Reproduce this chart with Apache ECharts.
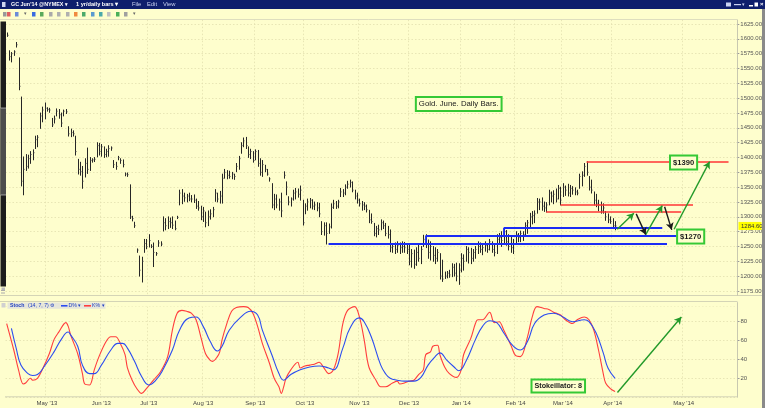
<!DOCTYPE html>
<html><head><meta charset="utf-8">
<script src="https://cdn.jsdelivr.net/npm/echarts@6/dist/echarts.min.js"></script>
<style>html,body{margin:0;padding:0;background:#fefecd}#c{width:765px;height:408px}</style>
</head><body><div id="c"></div>
<script>
// ---------- data ----------
const FIRST_DAY = '2013-04-08';   // first daily bar
const LAST_BAR_DAY = '2014-04-02'; // last daily bar
const LAST_AXIS_DAY = '2014-05-23';// right edge of the time axis
const MONTHS = ['Jan','Feb','Mar','Apr','May','Jun','Jul','Aug','Sep','Oct','Nov','Dec'];
const priceTicks = {min:1150, max:1650, step:25};
const stochTicks = {min:0, max:100, step:20};
const lastPrice = 1284.60;

const highs = [1610,1580,1577,1580,1594,1568,1502,1401,1405,1404,
1410,1413,1436,1437,1475,1485,1492,1484,1483,1466,
1470,1482,1481,1475,1480,1481,1452,1448,1445,1436,
1397,1392,1385,1398,1416,1400,1398,1400,1425,1424,
1422,1418,1414,1420,1418,1395,1392,1402,1398,1396,
1374,1374,1354,1301,1291,1246,1234,1232,1262,1262,
1270,1253,1256,1240,1260,1258,1300,1297,1300,1298,
1300,1293,1301,1345,1346,1340,1338,1340,1336,1337,
1330,1326,1318,1316,1308,1310,1312,1316,1346,1340,
1343,1372,1380,1378,1377,1375,1372,1390,1402,1425,
1433,1434,1418,1414,1410,1413,1412,1398,1395,1387,
1380,1366,1356,1338,1337,1330,1340,1376,1359,1334,
1332,1345,1348,1347,1352,1328,1322,1330,1331,1329,
1325,1324,1323,1292,1290,1290,1288,1322,1328,1326,
1328,1348,1346,1354,1360,1362,1359,1345,1340,1330,
1326,1324,1320,1311,1305,1289,1284,1286,1295,1293,
1289,1284,1278,1255,1256,1258,1256,1258,1257,1255,
1252,1245,1244,1248,1255,1250,1269,1270,1261,1258,
1250,1248,1245,1238,1227,1207,1208,1210,1221,1220,
1222,1221,1238,1236,1250,1248,1247,1245,1250,1258,
1256,1252,1258,1254,1262,1258,1252,1270,1272,1275,
1280,1277,1270,1266,1262,1275,1272,1276,1275,1290,
1294,1306,1309,1310,1331,1330,1332,1325,1324,1345,
1342,1344,1347,1353,1350,1356,1352,1355,1353,1351,
1349,1345,1372,1376,1390,1393,1368,1362,1342,1338,
1328,1325,1322,1309,1305,1300,1297,1292];
const lows = [1604,1564,1561,1572,1586,1514,1352,1337,1378,1382,
1390,1396,1415,1418,1449,1460,1465,1478,1476,1452,
1458,1470,1466,1452,1470,1474,1436,1435,1436,1404,
1372,1370,1348,1367,1373,1378,1392,1393,1401,1404,
1402,1400,1401,1402,1412,1383,1380,1396,1390,1384,
1369,1368,1297,1293,1282,1240,1200,1190,1240,1246,
1249,1248,1216,1235,1250,1251,1276,1278,1280,1282,
1280,1278,1297,1320,1322,1326,1325,1327,1325,1324,
1314,1311,1295,1292,1283,1285,1296,1300,1326,1325,
1323,1323,1365,1364,1365,1364,1363,1376,1380,1407,
1418,1415,1400,1398,1392,1396,1385,1370,1368,1376,
1370,1360,1315,1312,1315,1311,1300,1365,1337,1320,
1318,1328,1330,1333,1328,1286,1305,1311,1315,1313,
1312,1310,1300,1270,1269,1254,1272,1281,1314,1314,
1315,1334,1334,1337,1348,1350,1342,1330,1323,1318,
1311,1312,1308,1290,1289,1268,1266,1270,1278,1280,
1268,1264,1241,1240,1238,1240,1238,1240,1240,1238,
1219,1215,1213,1218,1225,1221,1250,1248,1230,1227,
1225,1221,1225,1195,1191,1196,1197,1198,1199,1200,
1192,1186,1207,1210,1225,1222,1221,1225,1230,1238,
1240,1236,1242,1240,1244,1240,1234,1238,1254,1250,
1256,1252,1244,1240,1238,1255,1258,1258,1260,1269,
1272,1283,1288,1290,1306,1312,1311,1309,1308,1320,
1325,1322,1325,1330,1320,1334,1336,1335,1334,1338,
1337,1337,1348,1352,1368,1370,1345,1340,1320,1317,
1310,1306,1306,1294,1290,1289,1280,1278];
const closes = [1606,1570,1575,1578,1590,1520,1360,1380,1385,1398,
1405,1408,1430,1434,1470,1480,1483,1481,1480,1455,
1465,1478,1472,1458,1478,1477,1440,1442,1440,1410,
1380,1376,1360,1390,1380,1395,1396,1397,1420,1410,
1418,1405,1410,1415,1416,1388,1385,1400,1395,1388,
1372,1371,1300,1297,1285,1244,1210,1225,1255,1250,
1260,1250,1240,1238,1256,1254,1290,1285,1292,1290,
1286,1280,1299,1340,1335,1332,1335,1330,1330,1328,
1318,1315,1300,1310,1290,1300,1305,1312,1340,1330,
1335,1365,1375,1370,1368,1372,1368,1385,1398,1420,
1428,1420,1405,1410,1395,1410,1390,1375,1388,1380,
1372,1364,1320,1330,1320,1325,1310,1370,1350,1325,
1330,1340,1342,1338,1345,1290,1318,1325,1328,1318,
1320,1315,1305,1275,1285,1272,1283,1316,1322,1318,
1325,1342,1340,1350,1355,1358,1345,1335,1328,1322,
1320,1318,1312,1295,1292,1272,1280,1278,1290,1285,
1272,1270,1248,1250,1245,1252,1248,1250,1248,1245,
1225,1238,1220,1240,1230,1245,1262,1255,1240,1250,
1235,1230,1240,1200,1195,1200,1205,1202,1215,1205,
1200,1210,1230,1225,1245,1240,1230,1240,1245,1250,
1245,1248,1252,1245,1258,1245,1240,1262,1265,1260,
1275,1258,1250,1248,1255,1270,1265,1272,1270,1285,
1290,1300,1302,1305,1325,1325,1318,1315,1320,1340,
1335,1338,1330,1348,1328,1350,1345,1340,1348,1345,
1342,1340,1368,1370,1385,1375,1350,1345,1328,1322,
1320,1310,1315,1300,1295,1292,1285,1284.6];

// Stochastic %K (red) and %D (blue): [bar index, value]
const stochK = [[0,78],[3,50],[5,29],[7,14],[8,15],[10,20],[11,18],[13,20],[15,29],[18,46],[20,61],[22,69],[25,79],[26,75],[27,66],[30,46],[32,25],[33,14],[35,13],[37,29],[39,43],[42,59],[44,64],[46,64],[48,57],[50,45],[51,31],[53,18],[55,9],[57,4],[59,9],[62,18],[65,27],[68,43],[70,71],[72,89],[74,92],[76,91],[78,89],[80,82],[82,64],[84,46],[86,39],[87,38],[89,43],[90,48],[91,61],[93,78],[95,91],[97,95],[100,96],[102,95],[104,89],[106,75],[108,57],[111,36],[113,20],[115,11],[116,4],[117,11],[118,20],[120,29],[123,37],[124,31],[126,33],[128,34],[130,35],[132,37],[134,31],[136,25],[138,29],[140,46],[142,78],[144,92],[147,96],[149,85],[151,61],[153,32],[156,18],[158,11],[160,11],[163,15],[165,17],[166,14],[168,15],[170,17],[172,18],[174,24],[176,29],[177,45],[179,48],[180,54],[182,55],[183,45],[185,32],[187,25],[190,21],[192,29],[193,45],[196,62],[198,78],[199,82],[201,82],[204,90],[206,79],[208,80],[210,71],[213,55],[215,44],[217,43],[220,64],[222,85],[224,96],[227,94],[229,93],[231,90],[234,87],[236,82],[239,78],[241,82],[244,85],[246,82],[248,71],[250,50],[252,25],[253,15],[255,9],[257,6]];
const stochD = [[2,73],[4,52],[6,34],[9,25],[11,23],[13,24],[16,33],[20,48],[23,61],[26,69],[27,66],[30,54],[32,34],[35,25],[37,25],[40,34],[44,50],[47,57],[49,57],[51,52],[54,38],[57,22],[60,13],[63,18],[66,29],[70,50],[73,71],[77,84],[80,85],[83,75],[86,59],[89,49],[91,54],[94,71],[99,85],[103,91],[106,87],[108,71],[112,45],[115,25],[117,18],[120,24],[124,29],[128,32],[132,33],[136,31],[138,29],[142,52],[145,73],[149,84],[151,80],[154,64],[158,34],[160,25],[162,20],[165,18],[168,17],[172,17],[175,21],[178,34],[181,43],[183,47],[186,39],[189,32],[191,28],[194,38],[198,61],[201,75],[204,81],[207,79],[210,68],[214,54],[217,50],[220,59],[223,78],[227,87],[231,89],[235,85],[239,80],[244,82],[246,80],[249,68],[252,47],[254,31],[257,20]];

// drawn annotations: [fromIndex, fromValue, toIndex, toValue]
const blueLines = [[136,1254,279,1254],[177,1268,283,1268],[210,1281,277,1281],[177,1268,177,1254],[210,1281,210,1268]];
const redLines = [[245,1393,305,1393],[234,1320,290,1320],[228,1308,285,1308]];
const greenArrows = [[258,1279,265,1306],[270,1270,277,1319],[282,1279,297,1393]];
const blackArrows = [[266,1305,270,1270],[278,1317,281,1278]];
const stochArrow = [[258,5,285,85]];
// text boxes: [text, index, value]
const priceNotes = [['Gold. June. Daily Bars.',191,1490,'normal',7.8],['$1390',286,1391.5,'bold',7.6],['$1270',289,1266.7,'bold',7.6]];
const stochNotes = [['Stokeillator: 8',233,11.9,'bold',7.2]];

// ---------- build ----------
const BG = '#fefecd';
function buildDates(){
  const out = [];
  const p = s => { const a = s.split('-'); return Date.UTC(+a[0], +a[1]-1, +a[2]); };
  const last = p(LAST_BAR_DAY), end = p(LAST_AXIS_DAY);
  for (let t = p(FIRST_DAY); t <= end; t += 86400000) {
    const d = new Date(t), wd = d.getUTCDay();
    if (t > last || (wd !== 0 && wd !== 6)) out.push(d.toISOString().slice(0,10));
  }
  return out;
}
const dates = buildDates();
const isMonthStart = i => i > 0 && dates[i].slice(0,7) !== dates[i-1].slice(0,7);
const fmtMonth = v => { const a = v.split('-'); return MONTHS[+a[1]-1] + " '" + a[0].slice(2); };
const bars = highs.map((h,i) => [i, h, lows[i], closes[i]]);
const seg = list => list.map(s => [{coord:[s[0], s[1]]}, {coord:[s[2], s[3]]}]);
const FONT = 'Liberation Sans';
const gridLine = {show:true, lineStyle:{color:'#e2dfae', width:0.8, type:[1.5,2]}};

const chart = echarts.init(document.getElementById('c'), null, {renderer:'canvas'});
function markSeries(x, y, list, color, width, arrow){
  return {type:'line', xAxisIndex:x, yAxisIndex:y, data:[], silent:true,
    markLine:{silent:true, animation:false, symbol: arrow ? ['none','arrow'] : ['none','none'], symbolSize: arrow ? [6,7] : 0,
      label:{show:false}, emphasis:{disabled:true}, lineStyle:{color:color, width:width, type:'solid'}, data: seg(list)}};
}
function noteSeries(x, y, notes){
  return {type:'line', xAxisIndex:x, yAxisIndex:y, data:[], silent:true,
    markPoint:{silent:true, animation:false, symbol:'rect', symbolSize:[1,1], itemStyle:{color:'rgba(0,0,0,0)'},
      data: notes.map(n => ({coord:[n[1], n[2]], label:{show:true, position:'inside', formatter:n[0], color:'#1a1a1a',
        fontFamily:FONT, fontWeight:n[3], fontSize:n[4], backgroundColor:BG, borderColor:'#35c935', borderWidth:2,
        padding:[2,2,2,2]}}))}};
}

const option = {
  animation:false,
  backgroundColor:BG,
  grid:[{left:5.5, width:731.5, top:9.17, height:296.63}, {left:5.5, width:731.5, top:302.8, height:94.4}],
  xAxis:[
    {type:'category', gridIndex:0, data:dates, boundaryGap:true, axisLine:{show:false}, axisTick:{show:false}, axisLabel:{show:false},
      splitLine:Object.assign({interval:(i)=>isMonthStart(i)}, gridLine)},
    {type:'category', gridIndex:1, data:dates, boundaryGap:true, axisLine:{show:false}, axisTick:{show:false},
      axisLabel:{interval:(i)=>isMonthStart(i), formatter:fmtMonth, fontSize:6, color:'#444', margin:3, fontFamily:FONT},
      splitLine:Object.assign({interval:(i)=>isMonthStart(i)}, gridLine)}
  ],
  yAxis:[
    {type:'value', gridIndex:0, position:'right', min:priceTicks.min, max:priceTicks.max, interval:priceTicks.step,
      axisLine:{show:true, lineStyle:{color:'#c8c8b0'}}, axisTick:{show:true, length:2.5, lineStyle:{color:'#999'}},
      axisLabel:{showMinLabel:false, showMaxLabel:false, formatter:v=>v.toFixed(2), fontSize:6, color:'#555', margin:3.5, fontFamily:FONT},
      splitLine:gridLine},
    {type:'value', gridIndex:1, position:'right', min:stochTicks.min, max:stochTicks.max, interval:stochTicks.step,
      axisLine:{show:true, lineStyle:{color:'#c8c8b0'}}, axisTick:{show:true, length:2.5, lineStyle:{color:'#999'}},
      axisLabel:{showMinLabel:false, showMaxLabel:false, fontSize:6, color:'#555', margin:3.5, fontFamily:FONT},
      splitLine:gridLine}
  ],
  series:[
    {type:'custom', xAxisIndex:0, yAxisIndex:0, data:bars, encode:{x:0, y:[1,2,3]}, silent:true,
      renderItem:(params, api) => {
        const x = api.value(0);
        const hi = api.coord([x, api.value(1)]), lo = api.coord([x, api.value(2)]), cl = api.coord([x, api.value(3)]);
        const px = Math.round(hi[0]) + 0.5;
        return {type:'group', children:[
          {type:'line', shape:{x1:px, y1:hi[1]-0.4, x2:px, y2:lo[1]+0.4}, style:{stroke:'#262626', lineWidth:1}},
          {type:'line', shape:{x1:px, y1:cl[1], x2:px+1.2, y2:cl[1]}, style:{stroke:'#555', lineWidth:0.8}}
        ]};
      }},
    {type:'line', xAxisIndex:1, yAxisIndex:1, data:stochK, smooth:0.35, symbol:'none', silent:true, lineStyle:{color:'#ff3d3d', width:1.1}},
    {type:'line', xAxisIndex:1, yAxisIndex:1, data:stochD, smooth:0.45, symbol:'none', silent:true, lineStyle:{color:'#2b4cf0', width:1.1}},
    markSeries(0,0, blueLines, '#1a2cf5', 1.8, false),
    markSeries(0,0, redLines, '#ff3535', 1.6, false),
    markSeries(0,0, greenArrows, '#239a2a', 1.4, true),
    markSeries(0,0, blackArrows, '#1a1a1a', 1.4, true),
    markSeries(1,1, stochArrow, '#239a2a', 1.4, true),
    noteSeries(0,0, priceNotes),
    noteSeries(1,1, stochNotes)
  ]
};
chart.setOption(option);

// ---------- chrome (window frame, toolbars, legend) ----------
const yLast = chart.convertToPixel({yAxisIndex:0}, lastPrice);
const g = [];
const rect = (x,y,w,h,fill,z,extra) => g.push(Object.assign({type:'rect', shape:{x,y,width:w,height:h}, style:{fill}, z:z||10, silent:true}, extra||{}));
const line = (x1,y1,x2,y2,stroke,w,z) => g.push({type:'line', shape:{x1,y1,x2,y2}, style:{stroke, lineWidth:w||1}, z:z||10, silent:true});
const text = (x,y,t,fill,size,weight,z,align) => g.push({type:'text', x, y, style:{text:t, fill, fontSize:size, fontWeight:weight||'normal', fontFamily:FONT, verticalAlign:'middle', align:align||'left'}, z:z||20, silent:true});

// covers for the area between the two panels
rect(0, 295.5, 765, 7.3, BG, 1);
rect(0, 302.8, 737, 3.6, BG, 1);
// title bar
rect(0, 0, 765, 9, '#0e1e6c', 100);
rect(2, 2, 3.5, 5, '#cfd6f0', 101);
text(11, 4.7, "GC Jun'14 @NYMEX ▾", '#ffffff', 5.4, 'bold', 102);
text(76, 4.7, '1 yr/daily bars ▾', '#ffffff', 5.6, 'bold', 102);
text(132, 4.7, 'File', '#c9d2f2', 5.8, 'normal', 102);
text(147, 4.7, 'Edit', '#c9d2f2', 5.8, 'normal', 102);
text(163, 4.7, 'View', '#c9d2f2', 5.8, 'normal', 102);
rect(726, 2.5, 5, 4, '#c9d2f2', 101);
rect(734, 4, 7, 1.2, '#c9d2f2', 101);
text(742, 4.7, '▾', '#c9d2f2', 5, 'normal', 102);
rect(749, 5, 4, 1.5, '#ffffff', 101);
rect(754.5, 2.5, 3.5, 4, '#ffffff', 101);
text(760, 4.7, '×', '#ffffff', 6, 'bold', 102);
// toolbar
rect(0, 9, 765, 10.5, BG, 100);
const icons = [[3,'#999'],[7,'#e06060'],[15,'#6a8bd8'],[32,'#3a6be0'],[40,'#5aaa5a'],[49,'#aaaaaa'],[57,'#b0b0b0'],[66,'#b0b0b0'],[74,'#f08a40'],[82,'#4aaa6a'],[91,'#5a9ad0'],[99,'#4aaaaa'],[107,'#c0c0c0'],[116,'#4ab05a'],[124,'#a0a0a0']];
icons.forEach(ic => rect(ic[0], 12, 3.5, 4.5, ic[1], 101));
text(24, 14, '▾', '#666', 5, 'normal', 102);
text(133, 14, '▾', '#666', 5, 'normal', 102);
line(0, 19.5, 737, 19.5, '#d6d6ba', 0.8, 101);
// right edge
rect(762, 9, 3, 399, '#8a8a8a', 100);
line(737.5, 19.5, 737.5, 295.5, '#c8c8b0', 0.8, 30);
// left scrollbar of price panel
rect(0.5, 21.5, 5.5, 265, '#1c1c1c', 30);
rect(0.5, 108, 5.5, 87, '#4c4c4c', 31);
line(0.5, 108, 6, 108, '#dddddd', 0.6, 32);
line(0.5, 195, 6, 195, '#dddddd', 0.6, 32);
rect(1.5, 287.5, 3.5, 3, '#bbbbbb', 30);
// panel separators
line(0, 295.5, 762, 295.5, '#c9c9b0', 0.8, 30);
line(0, 301.5, 737, 301.5, '#c9c9b0', 0.8, 30);
line(737.5, 301.5, 737.5, 396.5, '#c8c8b0', 0.8, 30);
line(5, 396.8, 737.5, 396.8, '#c8c8b0', 0.8, 30);
rect(1, 290, 4, 1, '#aaaaaa', 30); rect(1, 292.5, 4, 1, '#aaaaaa', 30);
// stochastic legend
rect(7.5, 302.6, 98, 6.2, '#e6e6da', 40);
rect(1.5, 303, 4, 4.5, '#d0d0d0', 40);
text(10, 305.8, 'Stoch', '#2040c0', 5.2, 'bold', 41);
text(28, 305.8, '(14, 7, 7) ⚙', '#2040c0', 5.2, 'normal', 41);
line(61, 305.8, 67.5, 305.8, '#2b4cf0', 1.6, 41);
text(68.5, 305.8, 'D% ▾', '#2040c0', 5.2, 'normal', 41);
line(84, 305.8, 91, 305.8, '#ff3d3d', 1.6, 41);
text(92, 305.8, 'K% ▾', '#2040c0', 5.2, 'normal', 41);
// last price marker
rect(738.5, yLast - 4, 23, 8, '#ffff00', 50);
text(741, yLast + 0.3, lastPrice.toFixed(2), '#333', 6, 'normal', 51);

chart.setOption({graphic:g});
</script></body></html>
